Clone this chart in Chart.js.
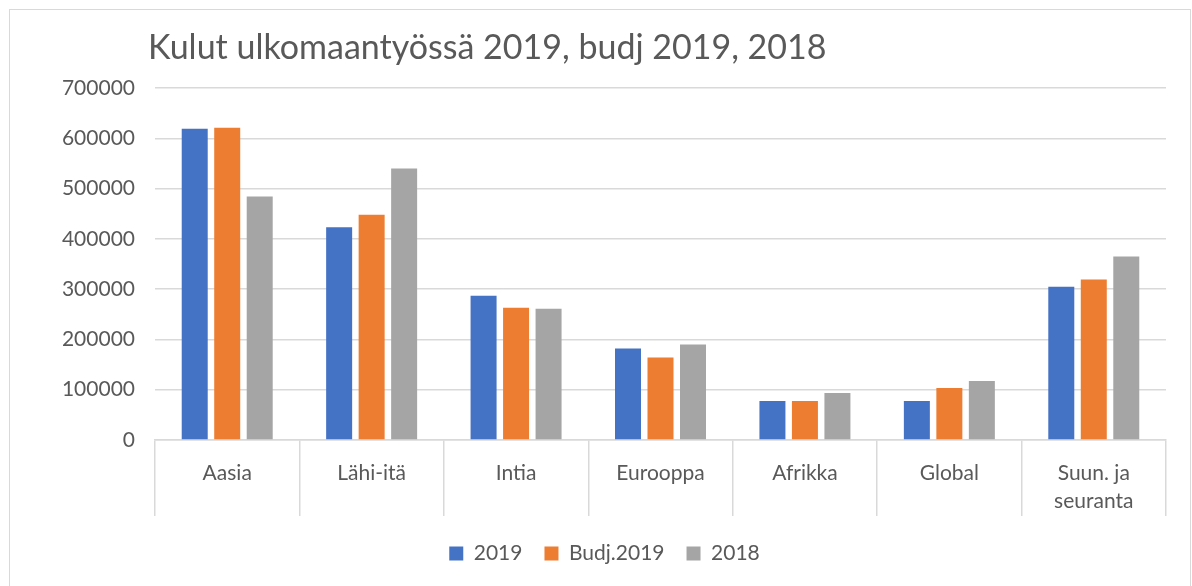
<!DOCTYPE html>
<html>
<head>
<meta charset="utf-8">
<script src="https://cdn.jsdelivr.net/npm/chart.js@4"></script>
<style>
  html, body { margin: 0; padding: 0; background: #fff; }
  #frame {
    position: absolute; left: 9px; top: 9px; width: 1180px; height: 600px;
    border: 1px solid #d9d9d9; pointer-events: none;
  }
  #title {
    position: absolute; left: 148px; top: 25px; margin: 0;
    font: 400 34px Lato, sans-serif; color: #595959; white-space: nowrap;
  }
  #myChart { position: absolute; left: 0; top: 0; }
</style>
</head>
<body>
<canvas id="myChart" width="1192" height="586"></canvas>
<div id="frame"></div>
<h1 id="title">Kulut ulkomaantyössä 2019, budj 2019, 2018</h1>
<script>
// categories and series
const categories = ["Aasia", "Lähi-itä", "Intia", "Eurooppa", "Afrikka", "Global", ["Suun. ja", "seuranta"]];
const vals2019 = [619000, 423000, 287000, 182000, 77500, 77500, 305000];
const valsBudj2019 = [621000, 448000, 263000, 164000, 77500, 103500, 319000];
const vals2018 = [484000, 540000, 261000, 190000, 93500, 117500, 365000];
const yTicks = [0, 100000, 200000, 300000, 400000, 500000, 600000, 700000];

const textColor = "#595959";
const gridColor = "#d9d9d9";

new Chart(document.getElementById("myChart"), {
    type: "bar",
    data: {
        labels: categories,
        datasets: [
            { label: "2019", data: vals2019, backgroundColor: "#4472C4" },
            { label: "Budj.2019", data: valsBudj2019, backgroundColor: "#ED7D31" },
            { label: "2018", data: vals2018, backgroundColor: "#A5A5A5" }
        ]
    },
    options: {
        responsive: false,
        animation: false,
        datasets: {
            bar: { barPercentage: 0.8, categoryPercentage: 0.675 }
        },
        // left padding keeps the legend centred like the original
        layout: { padding: { top: 88, right: 26, bottom: 12, left: 43 } },
        scales: {
            x: {
                grid: {
                    display: true,
                    drawOnChartArea: false,
                    drawTicks: true,
                    tickLength: 76,
                    color: gridColor,
                    lineWidth: 1.5
                },
                border: { display: true, color: gridColor, width: 1.5 },
                ticks: {
                    color: textColor,
                    font: { family: "Lato", size: 21, lineHeight: 1.33 },
                    padding: -57,
                    maxRotation: 0,
                    autoSkip: false
                },
                afterFit: function (scale) { scale.height = 81; }
            },
            y: {
                min: 0,
                max: 700000,
                afterBuildTicks: function (scale) {
                    scale.ticks = yTicks.map(function (v) { return { value: v }; });
                },
                grid: { color: gridColor, lineWidth: 1.5, drawTicks: false },
                border: { display: false },
                ticks: {
                    color: textColor,
                    font: { family: "Lato", size: 21 },
                    padding: 20,
                    callback: function (v) { return String(v); }
                },
                afterFit: function (scale) { scale.width = 112; }
            }
        },
        plugins: {
            legend: {
                position: "bottom",
                labels: {
                    color: textColor,
                    font: { family: "Lato", size: 21 },
                    boxWidth: 14,
                    boxHeight: 14,
                    padding: 22
                }
            },
            tooltip: { enabled: false }
        }
    }
});
</script>
</body>
</html>
